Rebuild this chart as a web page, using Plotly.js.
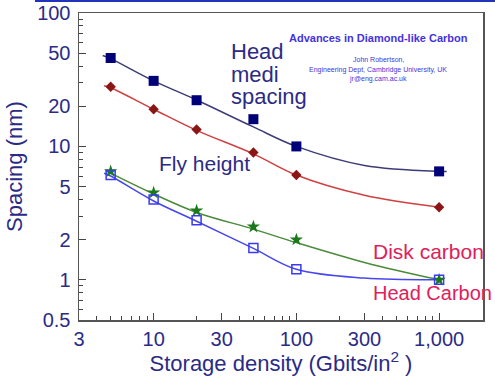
<!DOCTYPE html>
<html><head><meta charset="utf-8">
<script src="https://cdn.plot.ly/plotly-3.0.1.min.js"></script>
<style>html,body{margin:0;padding:0;background:#fff}#chart{width:495px;height:376px}</style>
</head><body><div id="chart"></div>
<script>
// Measured points
const ptX = [5, 10, 20, 50, 100, 1000];
const headMediaPts = [46, 31, 22.2, 16, 10, 6.5];
const flyHeightPts = [28, 19, 13.4, 9.0, 6.1, 3.5];
const diskCarbonPts = [6.5, 4.5, 3.3, 2.5, 2.0, 1.0];
const headCarbonPts = [6.1, 4.0, 2.8, 1.73, 1.2, 1.0];
// Fitted trend lines
const headMediaLineX = [4.4, 5, 10, 20, 50, 100, 300, 1000, 1130];
const headMediaLineY = [48, 45.5, 31, 22.3, 14, 10, 7.2, 6.5, 6.5];
const flyLineX = [4.5, 5, 10, 20, 50, 100, 300, 1000];
const flyLineY = [28.5, 27.5, 19, 13.2, 8.8, 6.1, 4.3, 3.5];
const diskLineX = [4.6, 5, 10, 20, 50, 100, 300, 1000];
const diskLineY = [6.6, 6.3, 4.4, 3.2, 2.4, 1.9, 1.35, 1.0];
const headCLineX = [4.5, 5, 10, 20, 50, 100, 300, 1000];
const headCLineY = [6.3, 6.0, 3.9, 2.75, 1.72, 1.2, 1.03, 1.0];
// Ticks
const xTickVals = [3, 10, 30, 100, 300, 1000];
const xTickText = ['3', '10', '30', '100', '300', '1,000'];
const xMinor = [4,5,6,7,8,9,20,40,50,60,70,80,90,200,400,500,600,700,800,900,2000];
const yTickVals = [0.5, 1, 2, 5, 10, 20, 50, 100];
const yTickText = ['0.5', '1', '2', '5', '10', '20', '50', '100'];
const yMinor = [0.6,0.7,0.8,0.9,3,4,6,7,8,9,30,40,60,70,80,90];

const navy = '#2b2b86';
const font = 'Arial, "Liberation Sans", sans-serif';

const traces = [
  {x: headMediaLineX, y: headMediaLineY, mode: 'lines', line: {color: '#3c3c78', width: 1.5, shape: 'spline'}, hoverinfo: 'skip'},
  {x: flyLineX, y: flyLineY, mode: 'lines', line: {color: '#d04040', width: 1.5, shape: 'spline'}, hoverinfo: 'skip'},
  {x: diskLineX, y: diskLineY, mode: 'lines', line: {color: '#4a8a3a', width: 1.5, shape: 'spline'}, hoverinfo: 'skip'},
  {x: headCLineX, y: headCLineY, mode: 'lines', line: {color: '#4646ee', width: 1.5, shape: 'spline'}, hoverinfo: 'skip'},
  {x: ptX, y: headMediaPts, mode: 'markers', marker: {symbol: 'square', size: 10, color: '#000078'}},
  {x: ptX, y: flyHeightPts, mode: 'markers', marker: {symbol: 'diamond', size: 8, color: '#8b1515'}},
  {x: ptX, y: diskCarbonPts, mode: 'markers', marker: {symbol: 'star', size: 10, color: '#1a7a1a'}},
  {x: ptX, y: headCarbonPts, mode: 'markers', marker: {symbol: 'square-open', size: 9, color: '#3a3aee', line: {width: 1.5}}}
];

const px = v => (v - 79) / 404;
const py = v => (320 - v) / 307;
const ann = (text, x, y, size, color, xanchor, extra) => Object.assign({
  text, x: px(x), y: py(y), xref: 'paper', yref: 'paper', showarrow: false,
  xanchor: xanchor || 'left', yanchor: 'middle', font: {family: font, size, color}
}, extra || {});

const layout = {
  width: 495, height: 376,
  margin: {l: 79, r: 12, t: 13, b: 56},
  paper_bgcolor: '#fff', plot_bgcolor: '#fff',
  showlegend: false,
  font: {family: font, color: navy},
  xaxis: {
    type: 'log', range: [Math.log10(3), Math.log10(2030)],
    tickvals: xTickVals, ticktext: xTickText,
    ticks: 'inside', ticklen: 7, tickcolor: '#444', tickwidth: 1,
    minor: {tickvals: xMinor, ticks: 'inside', ticklen: 4, tickcolor: '#444', showgrid: false},
    showline: true, linecolor: '#555', linewidth: 1.5, mirror: true,
    showgrid: false, zeroline: false,
    tickfont: {family: font, size: 20, color: navy},
    title: {text: 'Storage density (Gbits/in<sup>2</sup> )', font: {family: font, size: 22, color: navy}, standoff: 2}
  },
  yaxis: {
    type: 'log', range: [Math.log10(0.5), 2],
    tickvals: yTickVals, ticktext: yTickText,
    ticks: 'inside', ticklen: 7, tickcolor: '#444', tickwidth: 1,
    minor: {tickvals: yMinor, ticks: 'inside', ticklen: 4, tickcolor: '#444', showgrid: false},
    showline: true, linecolor: '#555', linewidth: 1.5, mirror: true,
    showgrid: false, zeroline: false,
    tickfont: {family: font, size: 20, color: navy},
    ticklabelstandoff: 3,
    title: {text: 'Spacing (nm)', font: {family: font, size: 22, color: navy}, standoff: 8}
  },
  shapes: [
    {type: 'line', xref: 'paper', yref: 'paper', x0: px(35), x1: px(495), y0: py(1), y1: py(1), line: {color: '#2233bb', width: 2}}
  ],
  annotations: [
    ann('Head', 229, 52, 22, navy),
    ann('medi', 229, 74, 22, navy),
    ann('spacing', 229, 96, 22, navy),
    ann('Fly height', 157, 163, 21, navy),
    ann('Disk carbon', 371, 251, 21, '#e0205a'),
    ann('Head Carbon', 371, 293, 20, '#e0205a'),
    ann('<b>Advances in Diamond-like Carbon</b>', 378, 38, 11, '#4433dd', 'center'),
    ann('John Robertson,', 378, 60, 7, '#4433dd', 'center'),
    ann('Engineering Dept, Cambridge University, UK', 378, 70, 7, '#4433dd', 'center'),
    ann('jr@eng.cam.ac.uk', 378, 79, 7, '#4433dd', 'center')
  ]
};

Plotly.newPlot('chart', traces, layout, {displayModeBar: false, staticPlot: true});
</script>
</body></html>
